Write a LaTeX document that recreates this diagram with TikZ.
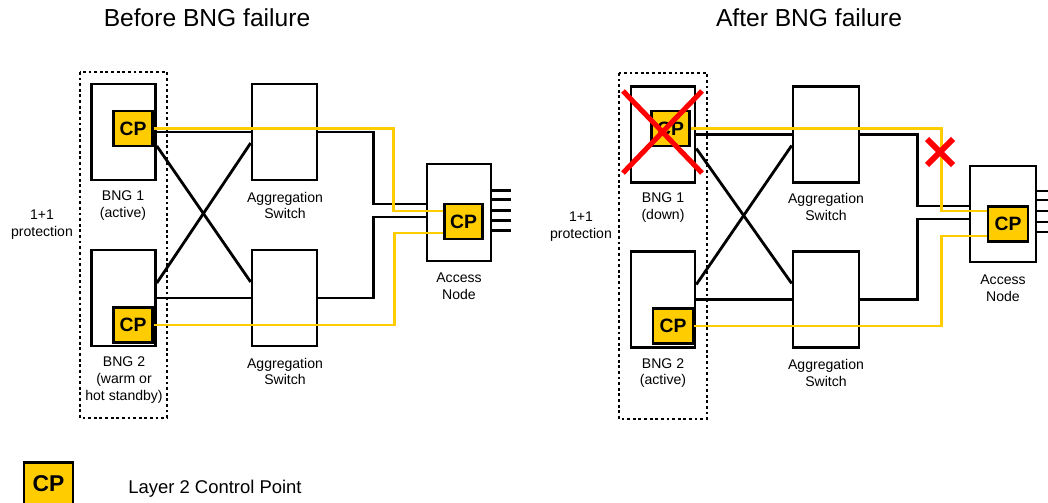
\documentclass[tikz,border=0pt]{standalone}
\usepackage{fontspec}
\setmainfont{Liberation Sans}
\usetikzlibrary{calc,positioning}
\definecolor{cpyellow}{HTML}{FFCC00}
\definecolor{xred}{HTML}{FF0000}

\tikzset{
  device/.style={draw, line width=1.5pt, minimum width=1.28cm, minimum height=1.92cm, inner sep=0pt},
  cp/.style={draw, line width=1.5pt, fill=cpyellow, minimum width=0.77cm, minimum height=0.70cm, inner sep=0pt, font=\fontsize{11}{11}\selectfont\bfseries},
  lbl/.style={align=center, font=\fontsize{8}{9.6}\selectfont},
  title/.style={font=\fontsize{14}{14}\selectfont},
  link/.style={line width=1.6pt},
  cplink/.style={cpyellow, line width=1.7pt},
  group/.style={line width=1.6pt, dash pattern=on 1.6pt off 1.6pt},
  fail/.style={xred, line width=2.9pt}
}

\begin{document}
\begin{tikzpicture}[x=0.02cm, y=-0.02cm]
\useasboundingbox (0,0) rectangle (1048,503);

% before BNG failure
\node[title] (titleL) at (207,18) {Before BNG failure};
\node[device] (bng1L) at (123.5,132) {};
\node[device] (bng2L) at (123.5,298) {};
\node[device, minimum width=1.30cm] (agg1L) at (284.5,132) {};
\node[device, minimum width=1.30cm] (agg2L) at (284.5,298) {};
\node[device, minimum height=1.94cm] (anL) at (459,212.5) {};
\draw[group] (80,72) rectangle (167,418);

\draw[link] (bng1L.east) -- (agg1L.west);
\draw[link] (bng2L.east) -- (agg2L.west);
\draw[link] ($(bng1L.east)+(0,14)$) -- ($(agg2L.west)+(0,-16)$);
\draw[link] ($(bng2L.east)+(0,-15)$) -- ($(agg1L.west)+(0,11)$);
\draw[link] (agg1L.east) -- ++(55,0) |- ($(anL.west)+(0,-8.5)$);
\draw[link] (agg2L.east) -- ++(55,0) |- ($(anL.west)+(0,4.5)$);
\foreach \dy in {-22,-13,-2,8,18}
  \draw[link] ($(anL.east)+(0,\dy)$) -- ++(19,0);

\node[cp] (cp1L) at (133,128.5) {CP};
\node[cp] (cp2L) at (133,325) {CP};
\node[cp] (cpanL) at (463.5,221.5) {CP};
\draw[cplink] (cp1L.east) -- ++(240,0) |- ($(cpanL.west)+(0,-10.5)$);
\draw[cplink] (cp2L.east) -- ++(241,0) |- ($(cpanL.west)+(0,11.5)$);

\node[lbl] (bng1Ltxt) at (123,205.5) {BNG 1\\(active)};
\node[lbl] (agg1Ltxt) at (285,205.5) {Aggregation\\Switch};
\node[lbl] (protLtxt) at (42,225) {1+1\\protection};
\node[lbl] (bng2Ltxt) at (124,380) {BNG 2\\(warm or\\hot standby)};
\node[lbl] (agg2Ltxt) at (285,371.5) {Aggregation\\Switch};
\node[lbl] (anLtxt) at (459,286) {Access\\Node};

% after BNG failure
\node[title] (titleR) at (809,18) {After BNG failure};
\node[device] (bng1R) at (663,134.5) {};
\node[device] (bng2R) at (663,299.5) {};
\node[device, minimum width=1.32cm] (agg1R) at (826,134.5) {};
\node[device, minimum width=1.32cm] (agg2R) at (826,299.5) {};
\node[device, minimum width=1.32cm] (anR) at (1003,214) {};
\draw[group] (619,73) rectangle (707,419);

\draw[link] (bng1R.east) -- (agg1R.west);
\draw[link] (bng2R.east) -- (agg2R.west);
\draw[link] ($(bng1R.east)+(0,14)$) -- ($(agg2R.west)+(0,-16)$);
\draw[link] ($(bng2R.east)+(0,-15)$) -- ($(agg1R.west)+(0,11)$);
\draw[link] (agg1R.east) -- ++(57,0) |- ($(anR.west)+(0,-8)$);
\draw[link] (agg2R.east) -- ++(57,0) |- ($(anR.west)+(0,5)$);
\foreach \dy in {-23,-14,-3,8,18}
  \draw[link] ($(anR.east)+(0,\dy)$) -- ++(14,0);

\node[cp] (cp1R) at (670.5,128.5) {CP};
\node[cp, minimum width=0.80cm] (cp2R) at (673,326) {CP};
\node[cp, minimum width=0.80cm] (cpanR) at (1008,224) {CP};
\draw[cplink] (cp1R.east) -- ++(250,0) |- ($(cpanR.west)+(0,-13)$);
\draw[cplink] (cp2R.east) -- ++(247,0) |- ($(cpanR.west)+(0,12)$);

\draw[fail] (623,91) -- (702,173) (702,91) -- (623,173);
\draw[fail, line width=3.4pt] (927,139) -- (953,165) (953,139) -- (927,165);

\node[lbl] (bng1Rtxt) at (663,207.5) {BNG 1\\(down)};
\node[lbl] (agg1Rtxt) at (826,207) {Aggregation\\Switch};
\node[lbl] (protRtxt) at (581,226.5) {1+1\\protection};
\node[lbl] (bng2Rtxt) at (663,373) {BNG 2\\(active)};
\node[lbl] (agg2Rtxt) at (826,373) {Aggregation\\Switch};
\node[lbl] (anRtxt) at (1003,288) {Access\\Node};

% legend
\node[cp, minimum width=0.98cm, minimum height=0.86cm, font=\fontsize{13}{13}\selectfont\bfseries] (cpkey) at (48.5,484) {CP};
\node[anchor=west, inner sep=0pt, font=\fontsize{10.5}{12}\selectfont] (cpkeytxt) at (128,489) {Layer 2 Control Point};
\end{tikzpicture}
\end{document}
